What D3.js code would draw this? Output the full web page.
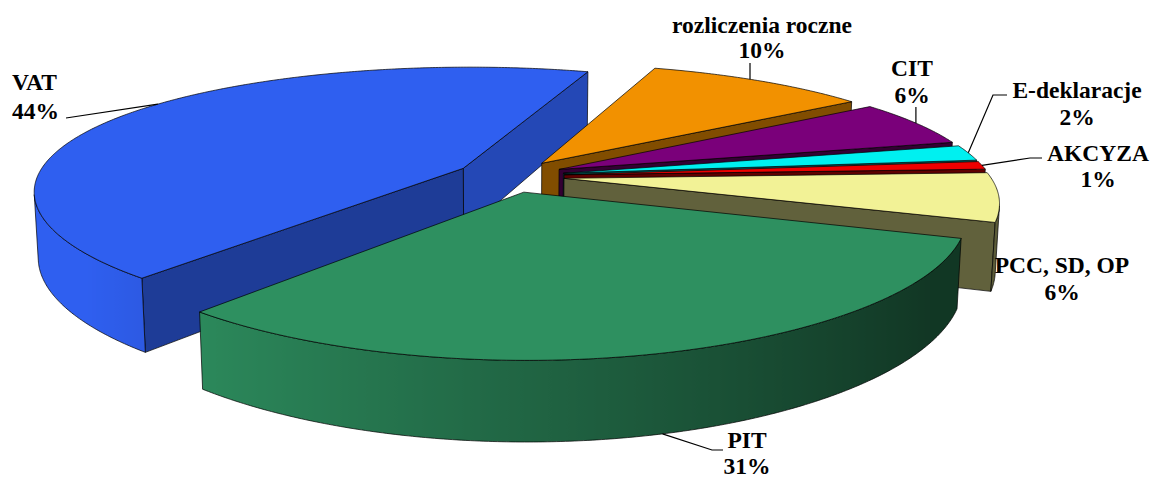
<!DOCTYPE html>
<html><head><meta charset="utf-8">
<script src="https://cdn.jsdelivr.net/npm/d3@7"></script>
<style>
body{margin:0;background:#fff}
svg{display:block}
</style>
</head><body>
<svg id="chart" width="1154" height="480"></svg>
<script>
// ---- data ----
const categories = ["rozliczenia roczne","CIT","E-deklaracje","AKCYZA","PCC, SD, OP","PIT","VAT"];
const values = [10,6,2,1,6,31,44];
const percentText = ["10%","6%","2%","1%","6%","31%","44%"];
const sliceColors = ["#F29100","#7A007A","#00F0F0","#EE0000","#F2F296","#2E9060","#2F5FF0"];

// ---- layout (not data) ----
const view = {cx:509, cy:176, S:426, elevDeg:17.1, Dx:5.6, Dy:4.57, T:0.16, startDeg:19};
const explode = [0.13,0.13,0.13,0.13,0.13,0.13,0.125];
const labelPos = [[762,33],[912,76],[1077,98],[1098,161],[1062,273],[747,448],[37,90]];
const lineGap = [25,27,27,26,27,26,29];
const leaderFrac = [0.45,0.5,0.5,0.5,0.5,0.5,0.54];
const leaderVia = [[[null,63]],[[null,107]],[[993,95],[1007,95]],[[1030,158],[1042,158]],[],[[712,450],[723,450]],[[66,118]]];
const leaderOnBottom = [false,false,false,false,false,true,false];
const FONT = "'Liberation Serif', 'Times New Roman', Times, serif";

const svg = d3.select("#chart");
const defs = svg.append("defs");
const color = d3.scaleOrdinal(categories, sliceColors);

const phi = view.elevDeg*Math.PI/180, cph = Math.cos(phi), sph = Math.sin(phi);
function proj(X,Y,Z){
  const yc = Y*cph - Z*sph, w = Y*sph + Z*cph;
  const kx = view.Dx/(view.Dx - w), ky = view.Dy/(view.Dy - w);
  return [view.cx + view.S*kx*X, view.cy - view.S*ky*yc, w];
}
function shoelace(p){
  let s=0; for(let i=0;i<p.length;i++){const a=p[i],b=p[(i+1)%p.length]; s+=a[0]*b[1]-b[0]*a[1];} return s;
}
function shade(c,f){const r=d3.rgb(c); return d3.rgb(r.r*f,r.g*f,r.b*f).formatHex();}
const wallF = t => Math.max(0.38, Math.min(1, 0.7 - 0.38*Math.sin(t)));
const faceF = nx => 0.40 + 0.4*Math.pow(Math.max(0,nx),2);
const line = d3.line();

const a0 = view.startDeg*Math.PI/180;
const arcs = d3.pie().sort(null).value(d=>d).startAngle(a0).endAngle(a0+2*Math.PI)(values);
const T = -view.T;
const faces = [], tops = [], anchors = [];
const step = 0.5*Math.PI/180;

arcs.forEach((a,i)=>{
  const base = color(categories[i]);
  const m=(a.startAngle+a.endAngle)/2, e=explode[i];
  const ox=e*Math.sin(m), oz=-e*Math.cos(m);
  const rim=(t,Y)=>proj(ox+Math.sin(t), Y, oz-Math.cos(t));
  const ctr=Y=>proj(ox,Y,oz);
  const n=Math.max(2,Math.ceil((a.endAngle-a.startAngle)/step));
  const ts=d3.range(n+1).map(j=>a.startAngle+(a.endAngle-a.startAngle)*j/n);
  tops.push({pts:[ctr(0),...ts.map(t=>rim(t,0))], fill:base});
  let run=null; const runs=[];
  for(let j=0;j<n;j++){
    const q=[rim(ts[j],0),rim(ts[j+1],0),rim(ts[j+1],T),rim(ts[j],T)];
    if(shoelace(q)<0){ if(!run){run=[ts[j]]; runs.push(run);} run.push(ts[j+1]); }
    else run=null;
  }
  runs.forEach((r,ri)=>{
    const topP=r.map(t=>rim(t,0)), botP=r.map(t=>rim(t,T)).reverse();
    const pts=[...topP,...botP];
    const xs=topP.map(p=>p[0]); const minX=d3.min(xs), maxX=d3.max(xs);
    const id=`wg${i}_${ri}`;
    const g=defs.append("linearGradient").attr("id",id).attr("gradientUnits","userSpaceOnUse")
      .attr("x1",minX).attr("x2",maxX).attr("y1",0).attr("y2",0);
    const stops=r.map((t,k)=>({o:maxX>minX?(topP[k][0]-minX)/(maxX-minX):0,c:shade(base,wallF(t))})).sort((p,q)=>p.o-q.o);
    stops.forEach(s=>g.append("stop").attr("offset",s.o).attr("stop-color",s.c));
    faces.push({pts, fill:`url(#${id})`, depth:d3.mean(pts,p=>p[2])});
  });
  const sf=[ctr(0),rim(a.startAngle,0),rim(a.startAngle,T),ctr(T)];
  if(shoelace(sf)<0){
    faces.push({pts:sf, fill:shade(base,faceF(-Math.cos(a.startAngle))), depth:d3.mean(sf,p=>p[2])});}
  const ef=[rim(a.endAngle,0),ctr(0),ctr(T),rim(a.endAngle,T)];
  if(shoelace(ef)<0){
    faces.push({pts:ef, fill:shade(base,faceF(Math.cos(a.endAngle))), depth:d3.mean(ef,p=>p[2])});}
  const ta=a.startAngle+(a.endAngle-a.startAngle)*leaderFrac[i];
  anchors.push(rim(ta, leaderOnBottom[i]?T:0));
});

faces.sort((p,q)=>p.depth-q.depth);
const gPie = svg.append("g");
gPie.selectAll("path.face").data(faces).join("path").attr("class","face")
  .attr("d",d=>line(d.pts.map(p=>[p[0],p[1]]))+"Z").attr("fill",d=>d.fill)
  .attr("stroke","#000").attr("stroke-width",0.7).attr("stroke-linejoin","round");
gPie.selectAll("path.top").data(tops).join("path").attr("class","top")
  .attr("d",d=>line(d.pts.map(p=>[p[0],p[1]]))+"Z").attr("fill",d=>d.fill)
  .attr("stroke","#000").attr("stroke-width",0.7).attr("stroke-linejoin","round");

const gLab = svg.append("g");
categories.forEach((c,i)=>{
  const via=leaderVia[i]; if(!via.length) return;
  const an=anchors[i];
  const pts=[[an[0],an[1]],...via.map(v=>[v[0]===null?an[0]:v[0],v[1]])];
  gLab.append("path").attr("d",line(pts)).attr("fill","none").attr("stroke","#000").attr("stroke-width",1.2);
});
categories.forEach((c,i)=>{
  const [x,y]=labelPos[i];
  const anchor = i===6 ? "start" : "middle";
  const xx = i===6 ? 12 : x;
  [c, percentText[i]].forEach((s,k)=>{
    gLab.append("text").attr("x",xx).attr("y",y+k*lineGap[i]).attr("text-anchor",anchor)
      .attr("font-family",FONT).attr("font-weight","bold").attr("font-size",23.5).attr("fill","#000").text(s);
  });
});
</script>
</body></html>
